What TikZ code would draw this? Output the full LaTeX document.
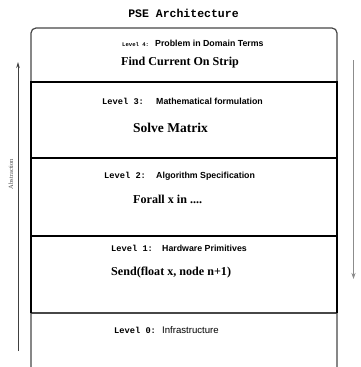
\documentclass[tikz,border=0pt]{standalone}
\usepackage{fontspec}
\setmainfont{Liberation Serif}
\setsansfont{Liberation Sans}
\setmonofont{Liberation Mono}
\usetikzlibrary{arrows.meta}
\tikzset{
  lvl/.style={anchor=mid west, inner sep=0pt, font=\ttfamily\bfseries\fontsize{8.7}{10}\selectfont},
  lvlsmall/.style={anchor=mid west, inner sep=0pt, font=\ttfamily\bfseries\fontsize{5.6}{6}\selectfont},
  desc/.style={anchor=mid west, inner sep=0pt, font=\sffamily\bfseries\fontsize{8.8}{10}\selectfont},
  big/.style={anchor=mid west, inner sep=0pt, font=\rmfamily\bfseries\fontsize{12.1}{14}\selectfont},
  outer/.style={draw=black!72, line width=1.2pt},
  inner/.style={draw=black, line width=1.9pt},
}
\begin{document}
\begin{tikzpicture}[x=1pt,y=-1pt]
\useasboundingbox (0,0) rectangle (361,367);
% outer frame
\draw[outer, rounded corners=5pt] (31,368) -- (31,28) -- (337,28) -- (337,368);
\draw[outer] (31,313) -- (337,313);
% thick inner frame
\draw[inner] (31,313) -- (31,82) -- (337,82) -- (337,313);
\draw[inner] (31,158) -- (337,158);
\draw[inner] (31,236) -- (337,236);
% title
\node[anchor=center, inner sep=0pt, font=\ttfamily\bfseries\fontsize{11.5}{13}\selectfont] (title) at (183.5,13) {PSE Architecture};
% level 4
\node[lvlsmall] (l4) at (122,44.5) {Level 4:};
\node[desc] (d4) at (155,44.5) {Problem in Domain Terms};
\node[big] (b4) at (121,63) {Find Current On Strip};
% level 3
\node[lvl] (l3) at (102,102) {Level 3:};
\node[desc] (d3) at (156,102) {Mathematical formulation};
\node[big, font=\rmfamily\bfseries\fontsize{13.5}{16}\selectfont] (b3) at (133,130.5) {Solve Matrix};
% level 2
\node[lvl] (l2) at (104,176.5) {Level 2:};
\node[desc] (d2) at (156,176.5) {Algorithm Specification};
\node[big] (b2) at (133,201) {Forall x in ....};
% level 1
\node[lvl] (l1) at (111,249.5) {Level 1:};
\node[desc] (d1) at (162,249.5) {Hardware Primitives};
\node[big] (b1) at (111,273.5) {Send(float x, node n+1)};
% level 0
\node[lvl] (l0) at (114,331.5) {Level 0:};
\node[desc, font=\sffamily\fontsize{9.6}{11}\selectfont] (d0) at (162,331.5) {Infrastructure};
% arrows
\coordinate (ua) at (18,351);
\coordinate (ub) at (18,62);
\draw[black!75, line width=0.9pt, -{Stealth[length=6pt,width=3.5pt]}] (ua) -- (ub);
\node[rotate=90, inner sep=0pt, font=\rmfamily\fontsize{6.5}{8}\selectfont, text=black!70] (abs) at (11,174) {Abstraction};
\coordinate (da) at (353.5,60);
\coordinate (db) at (353.5,279);
\draw[black!45, line width=1.8pt, -{Stealth[length=6pt,width=4pt]}] (da) -- (db);
\end{tikzpicture}
\end{document}
